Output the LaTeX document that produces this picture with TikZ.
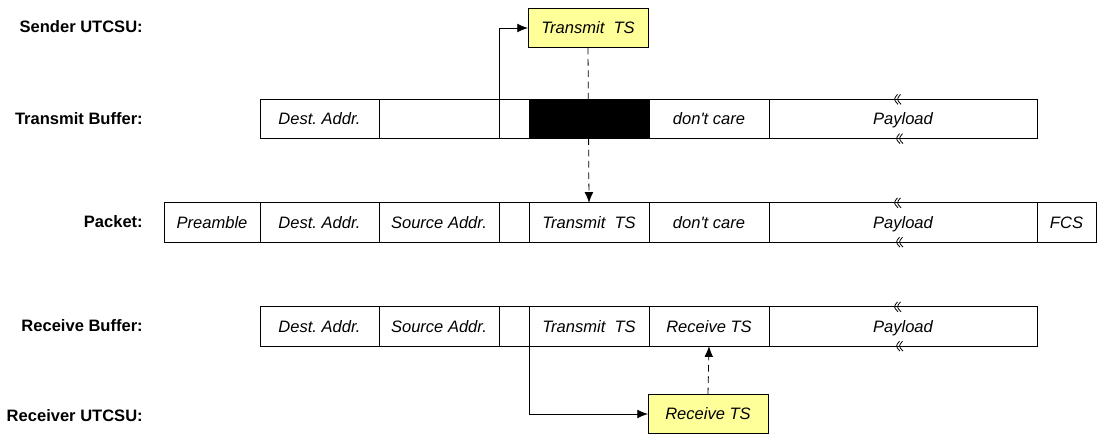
\documentclass[tikz,border=0pt]{standalone}
\usepackage{fontspec}
\setmainfont{Liberation Sans}[Ligatures=TeXOff]
\usetikzlibrary{chains,positioning,arrows.meta}

\definecolor{tsyellow}{HTML}{FFFF99}

\tikzset{
  field/.style={draw,line width=0.6pt,outer sep=0pt,inner sep=0pt,anchor=west,
    minimum height=29.5pt,text height=11pt,text depth=2.1pt,
    font=\fontsize{12.4}{15}\selectfont\itshape},
  stamp/.style={field,anchor=center,fill=tsyellow,minimum width=90pt},
  rowlabel/.style={anchor=east,inner sep=0pt,font=\fontsize{12.4}{15}\selectfont\bfseries},
  link/.style={line width=0.6pt,-{Latex[length=8pt,width=6.5pt]}},
  linkdash/.style={link,dash pattern=on 5pt off 3.5pt},
  brk/.pic={\draw[line width=0.6pt] (1.5,-5) .. controls (-2.5,0) .. (2,5)
    (4.5,-5) .. controls (0.5,0) .. (5,5);}
}

\begin{document}
\frenchspacing
\begin{tikzpicture}[x=0.75pt,y=-0.75pt]
\useasboundingbox (0,0) rectangle (1097,434);

\node[rowlabel] (lsnd) at (143,27) {Sender UTCSU:};
\node[rowlabel] (ltx) at (143,119) {Transmit Buffer:};
\node[rowlabel] (lpkt) at (143,222) {Packet:};
\node[rowlabel] (lrx) at (143,326) {Receive Buffer:};
\node[rowlabel] (lrcv) at (143,416) {Receiver UTCSU:};

\begin{scope}[shift={(260,119)},start chain=going right,node distance=0pt]
\def\txbuf{1/119/{Dest. Addr.}/white,2/120/{}/white,3/30/{}/white,4/120/{}/black,5/120/{don't care}/white,6/268/{Payload}/white}
\foreach \i / \w / \element / \c in \txbuf
  \node [on chain,field,minimum width=\w*0.75pt,fill=\c] (t\i) {\element};
\end{scope}

\begin{scope}[shift={(164,222.5)},start chain=going right,node distance=0pt]
\def\pkt{1/96/{Preamble},2/119/{Dest. Addr.},3/120/{Source Addr.},4/30/{},5/120/{Transmit\ \ TS},6/120/{don't care},7/268/{Payload},8/59/{FCS}}
\foreach \i / \w / \element in \pkt
  \node [on chain,field,minimum width=\w*0.75pt] (p\i) {\element};
\end{scope}

\begin{scope}[shift={(260,326.5)},start chain=going right,node distance=0pt]
\def\rxbuf{1/119/{Dest. Addr.},2/120/{Source Addr.},3/30/{},4/120/{Transmit\ \ TS},5/120/{Receive TS},6/268/{Payload}}
\foreach \i / \w / \element in \rxbuf
  \node [on chain,field,minimum width=\w*0.75pt] (r\i) {\element};
\end{scope}

\node[stamp] (txts) at (588,28) {Transmit\ \ TS};
\node[stamp] (rxts) at (708,414) {Receive TS};

\pic at ([xshift=-5.25pt]t6.north) {brk};
\pic at ([xshift=-3.75pt]t6.south) {brk};
\pic at ([xshift=-5.25pt]p7.north) {brk};
\pic at ([xshift=-3.75pt]p7.south) {brk};
\pic at ([xshift=-5.25pt]r6.north) {brk};
\pic at ([xshift=-3.75pt]r6.south) {brk};

\draw[link] (t2.south east) |- (txts.west);
\draw[linkdash] (txts.south) -- (p5.north);
\draw[link] (r3.south east) |- (rxts.west);
\draw[linkdash] (rxts.north) -- (r5.south);

\end{tikzpicture}
\end{document}
